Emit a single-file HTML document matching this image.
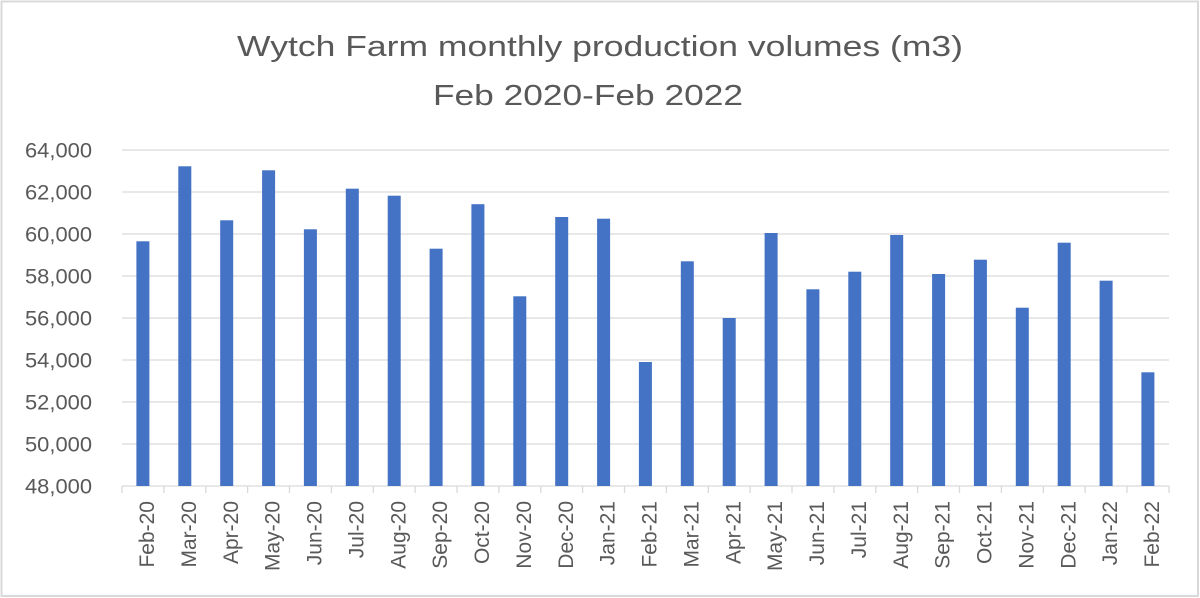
<!DOCTYPE html>
<html>
<head>
<meta charset="utf-8">
<style>
html,body{margin:0;padding:0;background:#fff;}
svg{display:block;}
text{font-family:"Liberation Sans",Arial,sans-serif;fill:#595959;}
</style>
</head>
<body>
<svg width="1200" height="598" viewBox="0 0 1200 598" xmlns="http://www.w3.org/2000/svg">
<rect x="0" y="0" width="1200" height="598" fill="#fff"/>
<rect x="1.5" y="1.5" width="1196.5" height="594.5" fill="none" stroke="#d9d9d9" stroke-width="2"/>
<!-- title -->
<text x="237" y="56" font-size="29" textLength="726" lengthAdjust="spacingAndGlyphs">Wytch Farm monthly production volumes (m3)</text>
<text x="433" y="105" font-size="29" textLength="310" lengthAdjust="spacingAndGlyphs">Feb 2020-Feb 2022</text>
<!-- gridlines -->
<g stroke="#d9d9d9" stroke-width="1.3">
<line x1="122" x2="1169" y1="150" y2="150"/>
<line x1="122" x2="1169" y1="192" y2="192"/>
<line x1="122" x2="1169" y1="234" y2="234"/>
<line x1="122" x2="1169" y1="276" y2="276"/>
<line x1="122" x2="1169" y1="318" y2="318"/>
<line x1="122" x2="1169" y1="360" y2="360"/>
<line x1="122" x2="1169" y1="402" y2="402"/>
<line x1="122" x2="1169" y1="444" y2="444"/>
<line x1="122" x2="1169" y1="486" y2="486"/>
</g>
<!-- ticks -->
<g stroke="#d9d9d9" stroke-width="1.3">
<line x1="122" x2="122" y1="486" y2="493"/>
<line x1="163.9" x2="163.9" y1="486" y2="493"/>
<line x1="205.8" x2="205.8" y1="486" y2="493"/>
<line x1="247.6" x2="247.6" y1="486" y2="493"/>
<line x1="289.5" x2="289.5" y1="486" y2="493"/>
<line x1="331.4" x2="331.4" y1="486" y2="493"/>
<line x1="373.3" x2="373.3" y1="486" y2="493"/>
<line x1="415.1" x2="415.1" y1="486" y2="493"/>
<line x1="457" x2="457" y1="486" y2="493"/>
<line x1="498.9" x2="498.9" y1="486" y2="493"/>
<line x1="540.8" x2="540.8" y1="486" y2="493"/>
<line x1="582.6" x2="582.6" y1="486" y2="493"/>
<line x1="624.5" x2="624.5" y1="486" y2="493"/>
<line x1="666.4" x2="666.4" y1="486" y2="493"/>
<line x1="708.3" x2="708.3" y1="486" y2="493"/>
<line x1="750.1" x2="750.1" y1="486" y2="493"/>
<line x1="792" x2="792" y1="486" y2="493"/>
<line x1="833.9" x2="833.9" y1="486" y2="493"/>
<line x1="875.8" x2="875.8" y1="486" y2="493"/>
<line x1="917.6" x2="917.6" y1="486" y2="493"/>
<line x1="959.5" x2="959.5" y1="486" y2="493"/>
<line x1="1001.4" x2="1001.4" y1="486" y2="493"/>
<line x1="1043.3" x2="1043.3" y1="486" y2="493"/>
<line x1="1085.1" x2="1085.1" y1="486" y2="493"/>
<line x1="1127" x2="1127" y1="486" y2="493"/>
<line x1="1169" x2="1169" y1="486" y2="493"/>
</g>
<!-- y labels -->
<g font-size="21" text-anchor="end">
<text x="92" y="157.5" textLength="67" lengthAdjust="spacingAndGlyphs">64,000</text>
<text x="92" y="199.5" textLength="67" lengthAdjust="spacingAndGlyphs">62,000</text>
<text x="92" y="241.5" textLength="67" lengthAdjust="spacingAndGlyphs">60,000</text>
<text x="92" y="283.5" textLength="67" lengthAdjust="spacingAndGlyphs">58,000</text>
<text x="92" y="325.5" textLength="67" lengthAdjust="spacingAndGlyphs">56,000</text>
<text x="92" y="367.5" textLength="67" lengthAdjust="spacingAndGlyphs">54,000</text>
<text x="92" y="409.5" textLength="67" lengthAdjust="spacingAndGlyphs">52,000</text>
<text x="92" y="451.5" textLength="67" lengthAdjust="spacingAndGlyphs">50,000</text>
<text x="92" y="493.5" textLength="67" lengthAdjust="spacingAndGlyphs">48,000</text>
</g>
<!-- bars -->
<g fill="#4472c4">
<rect x="136.4" y="241.3" width="13" height="244.7"/>
<rect x="178.3" y="166.3" width="13" height="319.7"/>
<rect x="220.2" y="220.3" width="13" height="265.7"/>
<rect x="262.1" y="170.3" width="13" height="315.7"/>
<rect x="303.9" y="229.3" width="13" height="256.7"/>
<rect x="345.8" y="188.7" width="13" height="297.3"/>
<rect x="387.7" y="195.7" width="13" height="290.3"/>
<rect x="429.6" y="248.7" width="13" height="237.3"/>
<rect x="471.4" y="204.2" width="13" height="281.8"/>
<rect x="513.3" y="296.3" width="13" height="189.7"/>
<rect x="555.2" y="217" width="13" height="269"/>
<rect x="597.1" y="218.7" width="13" height="267.3"/>
<rect x="638.9" y="362" width="13" height="124"/>
<rect x="680.8" y="261.3" width="13" height="224.7"/>
<rect x="722.7" y="318" width="13" height="168"/>
<rect x="764.6" y="233" width="13" height="253"/>
<rect x="806.4" y="289.3" width="13" height="196.7"/>
<rect x="848.3" y="271.7" width="13" height="214.3"/>
<rect x="890.2" y="235" width="13" height="251"/>
<rect x="932.1" y="274" width="13" height="212"/>
<rect x="973.9" y="259.7" width="13" height="226.3"/>
<rect x="1015.8" y="307.7" width="13" height="178.3"/>
<rect x="1057.7" y="242.7" width="13" height="243.3"/>
<rect x="1099.6" y="280.7" width="13" height="205.3"/>
<rect x="1141.4" y="372.3" width="13" height="113.7"/>
</g>
<!-- x labels -->
<g font-size="21" text-anchor="end">
<text transform="translate(154,501) rotate(-90)">Feb-20</text>
<text transform="translate(195.9,501) rotate(-90)">Mar-20</text>
<text transform="translate(237.8,501) rotate(-90)">Apr-20</text>
<text transform="translate(279.7,501) rotate(-90)">May-20</text>
<text transform="translate(321.5,501) rotate(-90)">Jun-20</text>
<text transform="translate(363.4,501) rotate(-90)">Jul-20</text>
<text transform="translate(405.3,501) rotate(-90)">Aug-20</text>
<text transform="translate(447.2,501) rotate(-90)">Sep-20</text>
<text transform="translate(489,501) rotate(-90)">Oct-20</text>
<text transform="translate(530.9,501) rotate(-90)">Nov-20</text>
<text transform="translate(572.8,501) rotate(-90)">Dec-20</text>
<text transform="translate(614.7,501) rotate(-90)">Jan-21</text>
<text transform="translate(656.5,501) rotate(-90)">Feb-21</text>
<text transform="translate(698.4,501) rotate(-90)">Mar-21</text>
<text transform="translate(740.3,501) rotate(-90)">Apr-21</text>
<text transform="translate(782.2,501) rotate(-90)">May-21</text>
<text transform="translate(824,501) rotate(-90)">Jun-21</text>
<text transform="translate(865.9,501) rotate(-90)">Jul-21</text>
<text transform="translate(907.8,501) rotate(-90)">Aug-21</text>
<text transform="translate(949.7,501) rotate(-90)">Sep-21</text>
<text transform="translate(991.5,501) rotate(-90)">Oct-21</text>
<text transform="translate(1033.4,501) rotate(-90)">Nov-21</text>
<text transform="translate(1075.3,501) rotate(-90)">Dec-21</text>
<text transform="translate(1117.2,501) rotate(-90)">Jan-22</text>
<text transform="translate(1159,501) rotate(-90)">Feb-22</text>
</g>
</svg>
</body>
</html>
